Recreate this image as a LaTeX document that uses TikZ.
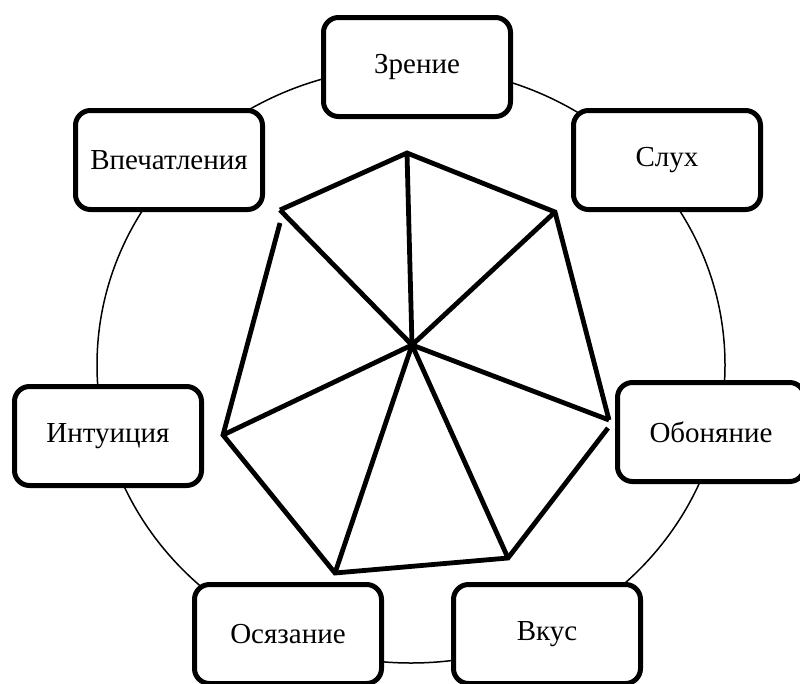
\documentclass[tikz,border=0pt]{standalone}
\usepackage{fontspec}
\setmainfont{Liberation Serif}
\usepackage{tikz}

\begin{document}
\begin{tikzpicture}[
  x=1pt, y=-1pt,
  sense/.style={draw=black, fill=white, line width=5pt, rounded corners=15pt,
    minimum width=187pt, minimum height=99pt, inner sep=0pt,
    font=\fontsize{29}{33}\selectfont},
  ring/.style={draw=black, line width=1.5pt},
  spoke/.style={draw=black, line width=4.8pt, line join=miter},
]
\useasboundingbox (0,0) rectangle (800,683);
\fill[white] (0,0) rectangle (800,683);
% outer ring
\coordinate (mid) at (411,365);
\draw[ring] (mid) ellipse [x radius=314, y radius=298];
% the seven senses
\node[sense] (zrenie) at (417,67) {Зрение};
\node[sense] (sluh) at (667,160) {Слух};
\node[sense] (obon) at (711,432) {Обоняние};
\node[sense] (vkus) at (547,634) {Вкус};
\node[sense] (osyaz) at (288,634) {Осязание};
\node[sense] (intu) at (108,436) {Интуиция};
\node[sense] (vpech) at (169,160) {Впечатления};
% heptagon
\coordinate (c) at (412,345);
\coordinate (v1) at (407,153);
\coordinate (v2) at (555,212);
\coordinate (v3) at (609,420);
\coordinate (v3b) at (608,428);
\coordinate (v4) at (508,558);
\coordinate (v5) at (335,573);
\coordinate (v6) at (223,435);
\coordinate (v7) at (280,210);
\coordinate (v7b) at (280,223);
\draw[spoke] (v7) -- (v1) -- (v2) -- (v3);
\draw[spoke] (v3b) -- (v4) -- (v5) -- (v6) -- (v7b);
\foreach \v in {v1,v2,v3,v4,v5,v6,v7}
  \draw[spoke] (c) -- (\v);
\end{tikzpicture}
\end{document}
